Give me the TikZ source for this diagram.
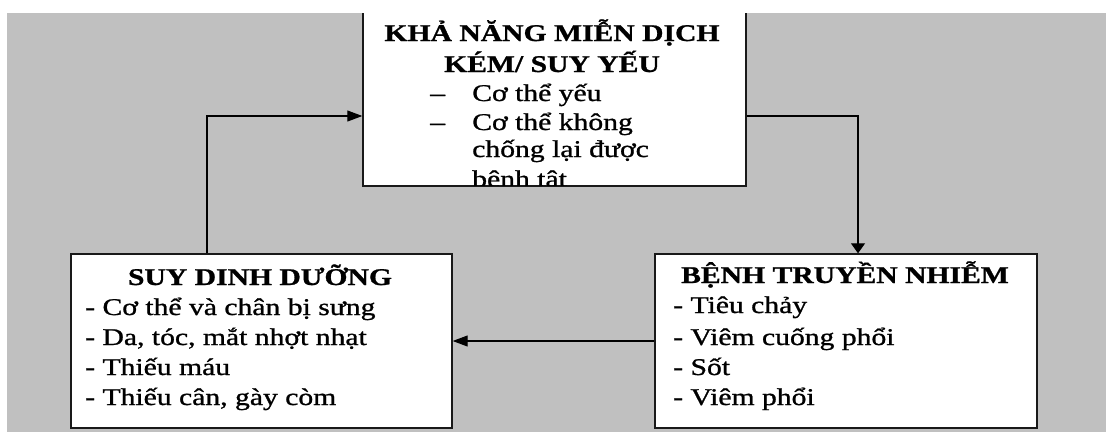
\documentclass[tikz,border=0pt]{standalone}
\usepackage{fontspec}
\setmainfont{Liberation Serif}[FakeBold=0.9]
\usetikzlibrary{arrows.meta}
\definecolor{bggray}{RGB}{192,192,192}
\begin{document}
\begin{tikzpicture}[x=1pt,y=-1pt,
  boxstyle/.style={draw=black!90, line width=1.4pt, fill=white, inner sep=0pt},
  txt/.style={inner sep=0pt, transform shape, xscale=1.235, font=\fontsize{24}{30}\selectfont},
  ttl/.style={txt, font=\fontsize{24}{30}\selectfont\bfseries},
  conn/.style={line width=1.1pt, draw=black},
  tipH/.style={-{Triangle[length=15pt,width=11pt]}},
  tipV/.style={-{Triangle[length=10pt,width=14pt]}}]
\useasboundingbox (0,0) rectangle (1106,432);
\fill[white] (0,0) rectangle (1106,432);
\begin{scope}
\clip (7,13) rectangle (1106,432);
\fill[bggray] (7,13) rectangle (1106,432);
% boxes
\node[boxstyle, minimum width=383pt, minimum height=186pt] (topbox) at (554.5,93) {};
\node[boxstyle, minimum width=381pt, minimum height=174pt] (sdd) at (261.5,341) {};
\node[boxstyle, minimum width=382pt, minimum height=174pt] (btn) at (846,341) {};
% top box text
\begin{scope}
\clip (363.7,0) rectangle (745.3,185.3);
\node[ttl, anchor=base] (t1) at (552,41) {KHẢ NĂNG MIỄN DỊCH};
\node[ttl, anchor=base] (t2) at (552,72) {KÉM/ SUY YẾU};
\node[txt, anchor=base west] (d1) at (430,101) {–};
\node[txt, anchor=base west] (i1) at (472,101) {Cơ thể yếu};
\node[txt, anchor=base west] (d2) at (430,130) {–};
\node[txt, anchor=base west] (i2) at (472,130) {Cơ thể không};
\node[txt, anchor=base west] (i3) at (472,157) {chống lại được};
\node[txt, anchor=base west] (i4) at (472,187) {bệnh tật};
\end{scope}
% left box text
\node[ttl, anchor=base] (s0) at (260,285) {SUY DINH DƯỠNG};
\node[txt, anchor=base west] (s1) at (85,315) {- Cơ thể và chân bị sưng};
\node[txt, anchor=base west] (s2) at (85,345) {- Da, tóc, mắt nhợt nhạt};
\node[txt, anchor=base west] (s3) at (85,375) {- Thiếu máu};
\node[txt, anchor=base west] (s4) at (85,405) {- Thiếu cân, gày còm};
% right box text
\node[ttl, anchor=base] (b0) at (845,283) {BỆNH TRUYỀN NHIỄM};
\node[txt, anchor=base west] (b1) at (673,313) {- Tiêu chảy};
\node[txt, anchor=base west] (b2) at (673,345) {- Viêm cuống phổi};
\node[txt, anchor=base west] (b3) at (673,375) {- Sốt};
\node[txt, anchor=base west] (b4) at (673,405) {- Viêm phổi};
% connectors
\draw[conn, tipH] ([xshift=-54.5pt]sdd.north) |- ([yshift=-23pt]topbox.west);
\draw[conn, tipV] ([yshift=-23pt]topbox.east) -| ([xshift=12pt]btn.north);
\draw[conn, tipH] (btn.west) -- (sdd.east);
\end{scope}
\end{tikzpicture}
\end{document}
